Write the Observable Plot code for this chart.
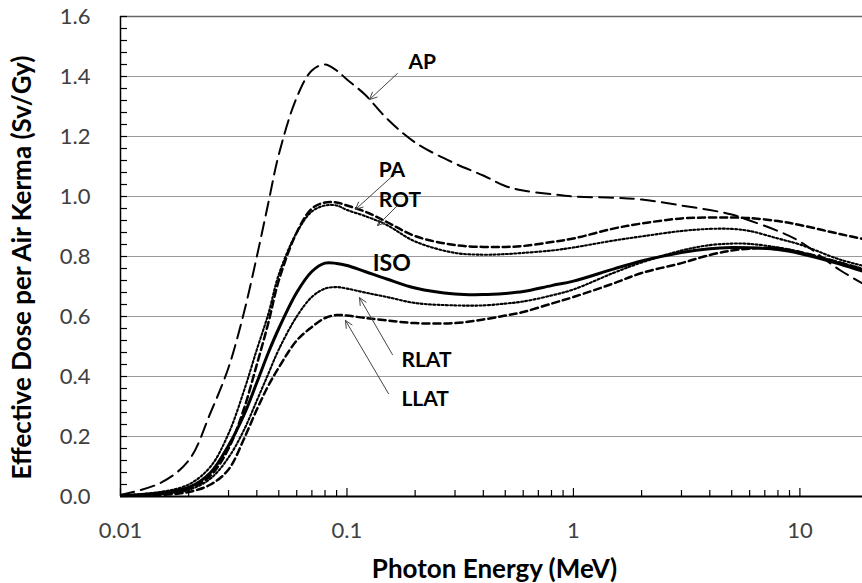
<!DOCTYPE html>
<html><head><meta charset="utf-8">
<script src="https://cdn.jsdelivr.net/npm/d3@7"></script>
<script src="https://cdn.jsdelivr.net/npm/@observablehq/plot@0.6"></script>
<style>body{margin:0;background:#fff}</style>
</head><body><div id="chart" style="position:relative;width:862px;height:583px"></div>
<script>
const energy = [0.01,0.015,0.02,0.025,0.03,0.035,0.04,0.045,0.05,0.06,0.07,0.08,0.09,0.1,0.12,0.15,0.2,0.3,0.4,0.5,0.6,0.8,1,1.5,2,3,4,5,6,8,10,15,20];
const AP   = [0.005,0.045,0.12,0.28,0.43,0.61,0.80,0.98,1.14,1.33,1.42,1.44,1.42,1.39,1.34,1.26,1.18,1.11,1.07,1.035,1.02,1.008,1.0,0.996,0.99,0.97,0.955,0.94,0.92,0.885,0.85,0.755,0.70];
const PA   = [0.002,0.008,0.025,0.07,0.16,0.29,0.44,0.58,0.72,0.88,0.96,0.98,0.98,0.97,0.95,0.915,0.868,0.838,0.832,0.832,0.835,0.848,0.86,0.893,0.91,0.927,0.93,0.93,0.928,0.918,0.905,0.875,0.855];
const ROT  = [0.003,0.015,0.04,0.10,0.21,0.35,0.49,0.61,0.74,0.88,0.95,0.97,0.97,0.955,0.935,0.905,0.85,0.812,0.806,0.808,0.812,0.82,0.83,0.853,0.867,0.885,0.892,0.892,0.885,0.86,0.84,0.79,0.765];
const ISO  = [0.004,0.012,0.03,0.08,0.17,0.27,0.38,0.48,0.56,0.68,0.75,0.778,0.777,0.77,0.75,0.725,0.695,0.675,0.673,0.677,0.683,0.703,0.718,0.758,0.785,0.813,0.826,0.83,0.829,0.823,0.81,0.775,0.745];
const RLAT = [0.002,0.008,0.022,0.06,0.13,0.22,0.32,0.41,0.49,0.60,0.665,0.693,0.698,0.693,0.68,0.665,0.645,0.637,0.637,0.643,0.65,0.67,0.69,0.745,0.78,0.82,0.838,0.843,0.842,0.83,0.815,0.78,0.755];
const LLAT = [0.001,0.005,0.015,0.04,0.09,0.19,0.29,0.37,0.43,0.52,0.565,0.595,0.605,0.603,0.595,0.587,0.578,0.578,0.59,0.603,0.615,0.643,0.665,0.71,0.745,0.778,0.805,0.82,0.826,0.828,0.815,0.78,0.75];

const xTickValues = [0.01, 0.1, 1, 10];
const xTickLabels = ["0.01", "0.1", "1", "10"];
const yTickValues = [0, 0.2, 0.4, 0.6, 0.8, 1.0, 1.2, 1.4, 1.6];
const gridValues = [0.2, 0.4, 0.6, 0.8, 1.0, 1.2, 1.4];
const yMinor = d3.range(0, 41).map(i => +(i * 0.04).toFixed(2));
const xMinor = [2,3,4,5,6,7,8,9].flatMap(m => [0.01*m, 0.1*m, 1*m]);

const labels = [
  {name: "AP",   x: 0.187, y: 1.447, size: 21},
  {name: "PA",   x: 0.138, y: 1.087, size: 21},
  {name: "ROT",  x: 0.138, y: 0.987, size: 21},
  {name: "ISO",  x: 0.130, y: 0.777, size: 23},
  {name: "RLAT", x: 0.174, y: 0.453, size: 21},
  {name: "LLAT", x: 0.174, y: 0.323, size: 21}
];
const arrows = [
  {x1: 0.167, y1: 1.41,  x2: 0.1257, y2: 1.323},
  {x1: 0.1637, y1: 1.077, x2: 0.109, y2: 0.957},
  {x1: 0.1671, y1: 0.97, x2: 0.1363, y2: 0.903},
  {x1: 0.1588, y1: 0.473, x2: 0.1136, y2: 0.663},
  {x1: 0.1525, y1: 0.343, x2: 0.0985, y2: 0.587}
];

const series = [
  {name: "AP", v: AP, dash: "14,7", w: 2},
  {name: "PA", v: PA, dash: "7,4", w: 2.5},
  {name: "ROT", v: ROT, dash: "2,2.2", w: 2.1},
  {name: "ISO", v: ISO, dash: null, w: 3},
  {name: "RLAT", v: RLAT, dash: "2,2.2", w: 2.1},
  {name: "LLAT", v: LLAT, dash: "7,4", w: 2.5}
];

const font = "Lato, sans-serif";
const frame = {width: 862, height: 583, marginLeft: 120, marginRight: 0, marginTop: 16, marginBottom: 87};
const xDomain = [0.01, 18.9];
const yDomain = [0, 1.6];

// Base layer: grid, frame, ticks and tick labels
const base = Plot.plot({
  ...frame,
  style: {fontFamily: font, fontSize: "22px", color: "#404040", background: "white", position: "absolute", left: "0px", top: "0px"},
  x: {type: "log", domain: xDomain, ticks: xTickValues, tickFormat: (d) => xTickLabels[xTickValues.indexOf(d)] ?? "", tickSize: 0, tickPadding: 26, label: null},
  y: {domain: yDomain, ticks: yTickValues, tickFormat: d3.format(".1f"), tickSize: 0, tickPadding: 30, label: null},
  marks: [
    Plot.ruleY(gridValues, {stroke: "#9a9a9a", strokeWidth: 1.2}),
    Plot.ruleY([1.6], {stroke: "#666", strokeWidth: 1.5}),
    Plot.tickY(yMinor, {y: d => d, insetRight: 862 - 120 - 7, stroke: "black", strokeWidth: 1.2}),
    Plot.tickX(xMinor, {x: d => d, insetTop: 480 - 6, stroke: "black", strokeWidth: 1.2}),
    Plot.tickX(xTickValues, {x: d => d, insetTop: 480 - 8, stroke: "black", strokeWidth: 1.2}),
    Plot.ruleX([0.01], {stroke: "black", strokeWidth: 1.5}),
    Plot.ruleY([0], {stroke: "black", strokeWidth: 2})
  ]
});

// Overlay layer: curves, annotations and axis titles
const lineMarks = series.map(s => Plot.line(energy.map((e, i) => ({e, v: s.v[i]})), {
  x: "e", y: "v", stroke: "black", strokeWidth: s.w, strokeDasharray: s.dash,
  curve: "catmull-rom", clip: true
}));
const overlay = Plot.plot({
  ...frame,
  style: {fontFamily: font, fontSize: "22px", color: "black", background: "none", position: "absolute", left: "0px", top: "0px"},
  x: {type: "log", domain: xDomain, axis: null},
  y: {domain: yDomain, axis: null},
  marks: [
    ...lineMarks,
    Plot.arrow(arrows, {x1: "x1", y1: "y1", x2: "x2", y2: "y2", stroke: "#444", strokeWidth: 1, headLength: 12, headAngle: 50}),
    Plot.text(labels, {x: "x", y: "y", text: "name", textAnchor: "start", fontWeight: "bold", fontSize: d => d.size, fill: "black"}),
    Plot.text(["Effective Dose per Air Kerma (Sv/Gy)"], {frameAnchor: "left", textAnchor: "middle", lineAnchor: "middle", text: d => d, rotate: -90, dx: -98, dy: 11, fontWeight: "bold", fontSize: 26, fill: "black"}),
    Plot.text(["Photon Energy (MeV)"], {frameAnchor: "bottom", textAnchor: "middle", lineAnchor: "middle", text: d => d, dx: 3, dy: 73, fontWeight: "bold", fontSize: 26, fill: "black"})
  ]
});
const host = document.getElementById("chart");
host.appendChild(base);
host.appendChild(overlay);
</script>
</body></html>
